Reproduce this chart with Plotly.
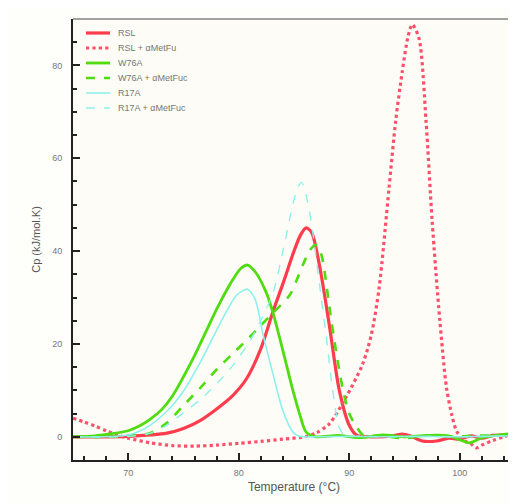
import plotly.graph_objects as go

# RSL (red solid)
rsl_x = [65, 68, 70, 72, 73.5, 75, 76.5, 78, 79.5, 80.7, 82, 83.1, 84, 85, 85.6, 86.1, 86.6, 87.3, 88.2, 89.1, 90, 90.7, 92, 94, 94.8, 95.5, 96.6, 97.9, 99, 100, 101, 102, 103, 104, 105]
rsl_y = [0, 0, 0.1, 0.4, 0.8, 1.8, 3.5, 6, 9, 12.5, 19, 27, 33, 40, 43.5, 45, 44, 37, 24, 10, 2.5, 0.3, 0, 0.2, 0.6, 0.2, -0.9, -0.9, -0.3, -0.5, 0.2, -0.3, 0.3, 0.4, 0.6]

# RSL + aMetFu (red dotted)
rslm_x = [65, 66, 67, 68, 69, 70, 72, 74, 76, 78, 80, 82, 84, 86, 87, 88.2, 89.7, 91.2, 92, 92.7, 93.6, 94.2, 94.8, 95.3, 95.7, 96.3, 96.95, 97.5, 98.2, 98.8, 99.3, 99.7, 100.3, 101, 101.5, 102, 103, 104, 105]
rslm_y = [4, 3.2, 2.3, 1.3, 0.4, -0.3, -1.3, -1.9, -2, -1.8, -1.4, -1, -0.5, 0, 0.8, 2.8, 8.5, 15.6, 22, 32, 53.6, 68, 78.7, 86, 88.8, 85.9, 68, 46.5, 25, 10.6, 4.5, 1.3, -0.7, -1.5, -2.4, -1.8, -0.8, 0, 0.8]

# W76A (green solid)
w76_x = [65, 67, 68.3, 70, 71, 72, 73, 74, 74.9, 76, 77, 78, 79, 79.5, 80.2, 80.8, 81.5, 82.5, 83.1, 84, 84.9, 85.5, 86.1, 87, 89, 91, 93, 95, 97, 99, 100.9, 102, 103, 104, 105]
w76_y = [0, 0.2, 0.6, 1.3, 2.3, 3.8, 5.8, 8.8, 12.5, 17.5, 22.5, 27.5, 32, 34, 36.3, 37, 35.5, 31, 26.7, 18.5, 10, 5, 1, 0, 0.3, -0.2, 0.4, 0, 0.3, 0.2, -1.3, -0.2, 0.2, 0.5, 0.8]

# W76A + aMetFuc (green dashed)
w76m_x = [65, 68, 70, 72, 73.5, 74.9, 76.5, 78, 79.5, 81, 82, 83.1, 84.6, 85.2, 85.8, 86.4, 86.9, 87.2, 87.6, 88.2, 88.8, 89.4, 90, 90.7, 91.3, 93, 95, 97, 99, 101, 103, 105]
w76m_y = [0, 0, 0.2, 0.8, 3, 6.5, 10.5, 14.5, 18, 21.5, 24, 26.7, 30.5, 33.5, 37, 40, 41.3, 41, 38, 28, 18.5, 10.5, 5, 2, 0.3, 0.2, -0.3, 0.3, 0, 0.2, 0.3, 0.5]

# R17A (cyan solid)
r17_x = [65, 68, 70, 71, 72, 73.5, 74.9, 76.5, 78, 79, 79.8, 80.8, 81.5, 82.2, 83.1, 84, 84.9, 85.5, 87, 90, 93, 96, 99, 102, 105]
r17_y = [0, 0, 0.4, 1.2, 2.5, 5.5, 9.5, 16, 23, 27.5, 30.5, 31.8, 29.5, 22, 13.5, 5.6, 1, 0.1, 0, 0.1, 0, 0.1, 0, 0.1, 0.2]

# R17A + aMetFuc (cyan dashed)
r17m_x = [65, 68, 70, 72, 73.5, 74.9, 76.5, 78, 79.5, 81, 82, 83.1, 84, 84.8, 85.3, 85.7, 86.2, 86.7, 87.3, 88, 88.5, 89.1, 89.6, 91, 94, 97, 100, 103, 105]
r17m_y = [0, 0, 0.1, 0.8, 2.5, 5, 8, 11.4, 15.5, 20.6, 25, 31, 40, 49, 53.5, 54.8, 51, 44, 33, 20, 10, 2, 0.3, 0.1, 0, 0.1, 0, 0.1, 0.2]

names = ["RSL", "RSL + αMetFu", "W76A", "W76A + αMetFuc", "R17A", "R17A + αMetFuc"]
xs_all = [rsl_x, rslm_x, w76_x, w76m_x, r17_x, r17m_x]
ys_all = [rsl_y, rslm_y, w76_y, w76m_y, r17_y, r17m_y]
colors = ["#ff3b4e", "#ff4f6b", "#4fdc10", "#4fdc10", "#8ef0ec", "#8ef0ec"]
widths = [3.2, 3.2, 2.8, 2.6, 1.6, 1.4]
dashes = ["solid", "dot", "solid", "dash", "solid", "dash"]

fig = go.Figure()
for name, xs, ys, color, w, dash in zip(names, xs_all, ys_all, colors, widths, dashes):
    fig.add_trace(go.Scatter(x=xs, y=ys, mode="lines", name=name, showlegend=False,
                             line=dict(color=color, width=w, dash=dash, shape="spline", smoothing=0.8)))

# compact legend drawn in paper coordinates (plot area: 442 x 441 px)
PW, PH = 442.0, 441.0
for i, (name, color, w, dash) in enumerate(zip(names, colors, widths, dashes)):
    yp = 1 - (14 + 15 * i) / PH
    fig.add_shape(type="line", xref="paper", yref="paper",
                  x0=13 / PW, x1=37 / PW, y0=yp, y1=yp,
                  line=dict(color=color, width=w, dash=dash))
    fig.add_annotation(xref="paper", yref="paper", x=43 / PW, y=yp, text=name,
                       showarrow=False, xanchor="left", yanchor="middle",
                       font=dict(size=9, color="#777", family="Liberation Sans"))

axis_common = dict(showline=True, linewidth=2, linecolor="#222", mirror=False,
                   showgrid=False, zeroline=False, ticks="inside", ticklen=7,
                   tickcolor="#222", tickwidth=1.5, automargin=False,
                   tickfont=dict(size=9, color="#777", family="Liberation Sans"))

fig.update_xaxes(range=[65, 105], tickvals=[70, 80, 90, 100], **axis_common,
                 ticklabelstandoff=3,
                 minor=dict(dtick=2, tick0=0, ticks="inside", ticklen=4, tickcolor="#222"),
                 title=dict(text="Temperature (°C)", font=dict(size=12, color="#555", family="Liberation Sans"), standoff=6))
fig.update_yaxes(range=[-5, 90], tickvals=[0, 20, 40, 60, 80], **axis_common,
                 ticklabelstandoff=7,
                 minor=dict(dtick=5, tick0=0, ticks="inside", ticklen=4, tickcolor="#222"),
                 title=dict(text="Cp (kJ/mol.K)", font=dict(size=11, color="#555", family="Liberation Sans"), standoff=9))

fig.add_shape(type="line", xref="paper", yref="paper", x0=0, x1=1, y0=1, y1=1, line=dict(color="#444", width=1.2))
fig.add_shape(type="line", xref="paper", yref="paper", x0=1, x1=1, y0=0, y1=1, line=dict(color="#444", width=1.2))

fig.update_layout(
    width=508, height=496,
    margin=dict(l=65, r=1, t=11, b=44, autoexpand=False),
    paper_bgcolor="#fefefb", plot_bgcolor="#fdfcf6",
    font=dict(family="Liberation Sans"),
    showlegend=False,
)

fig.write_html("out.html")
